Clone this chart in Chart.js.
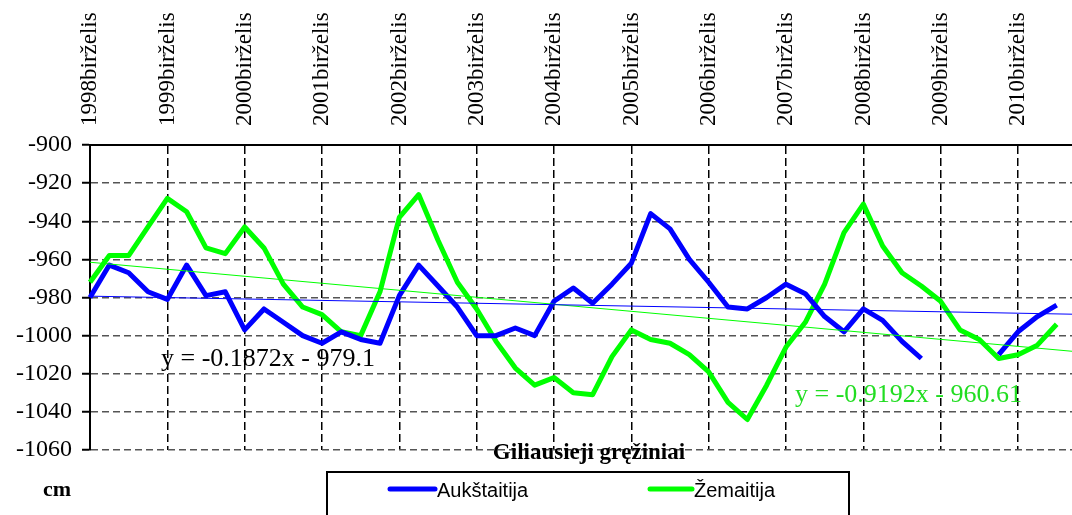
<!DOCTYPE html>
<html lang="lt">
<head>
    <meta charset="UTF-8">
    <title>Giliausieji gręžiniai</title>
    <script src="https://cdn.jsdelivr.net/npm/chart.js"></script>
    <style>
        body { margin: 0; background: #fff; }
        #wrap { width: 1072px; height: 515px; overflow: hidden; }
    </style>
</head>
<body>
<div id="wrap"><canvas id="chart" width="1080" height="515"></canvas></div>
<script>
    // year labels on the top axis (one every 4 points)
    const yearLabels = ['1998birželis', '1999birželis', '2000birželis', '2001birželis', '2002birželis',
        '2003birželis', '2004birželis', '2005birželis', '2006birželis', '2007birželis',
        '2008birželis', '2009birželis', '2010birželis'];

    const aukstaitija = [-980, -963, -967, -977, -981, -963, -979, -977, -997, -986,
        -993, -1000, -1004, -998, -1002, -1004, -979, -963, -974, -985,
        -1000, -1000, -996, -1000, -982, -975, -983, -973, -962, -936,
        -944, -960, -972, -985, -986, -980, -973, -978, -990, -998,
        -986, -992, -1003, -1012, null, null, null, -1010, -998, -990, -984];

    const zemaitija = [-972, -958, -958, -943, -928, -935, -954, -957, -943, -954,
        -973, -985, -989, -998, -1000, -977, -938, -926, -950, -972,
        -986, -1003, -1017, -1026, -1022, -1030, -1031, -1011, -997, -1002,
        -1004, -1010, -1019, -1035, -1044, -1026, -1006, -993, -973, -946,
        -931, -953, -967, -974, -982, -997, -1002, -1012, -1010, -1005, -994];

    // trendline ends (first and last category)
    const trendAukstaitija = [-979.3, -988.8];
    const trendZemaitija = [-961.5, -1008.4];

    const yTicks = [-900, -920, -940, -960, -980, -1000, -1020, -1040, -1060];

    const nCats = 52;
    const categories = [];
    for (let i = 0; i < nCats; i++) categories.push(i % 4 === 0 ? yearLabels[i / 4] : '');

    function trendData(ends) {
        const arr = new Array(nCats).fill(null);
        arr[0] = ends[0];
        arr[nCats - 1] = ends[1];
        return arr;
    }

    const serif = "'Liberation Serif', 'Times New Roman', serif";

    const extras = {
        id: 'extras',
        afterDraw(chart) {
            const ctx = chart.ctx;
            ctx.save();
            // trendline equations
            ctx.textAlign = 'left';
            ctx.textBaseline = 'alphabetic';
            ctx.font = '26px ' + serif;
            ctx.fillStyle = '#000';
            ctx.fillText('y = -0.1872x - 979.1', 161, 366);
            ctx.fillStyle = '#22dd22';
            ctx.fillText('y = -0.9192x - 960.61', 795, 402);

            // title
            ctx.fillStyle = '#000';
            ctx.font = 'bold 23px ' + serif;
            ctx.textAlign = 'center';
            ctx.fillText('Giliausieji gręžiniai', 589, 459);

            // unit
            ctx.font = 'bold 22px ' + serif;
            ctx.fillText('cm', 57, 496);

            // legend
            ctx.lineWidth = 2;
            ctx.strokeStyle = '#000';
            ctx.strokeRect(327, 472, 522, 60);
            const ds = chart.data.datasets;
            const items = [[ds[0], 390, 435], [ds[1], 650, 692]];
            ctx.font = "20px 'Liberation Sans', Arial, sans-serif";
            ctx.textAlign = 'left';
            ctx.textBaseline = 'middle';
            items.forEach(([d, x0, x1]) => {
                ctx.beginPath();
                ctx.lineCap = 'round';
                ctx.lineWidth = 5;
                ctx.strokeStyle = d.borderColor;
                ctx.moveTo(x0, 489);
                ctx.lineTo(x1, 489);
                ctx.stroke();
                ctx.fillStyle = '#000';
                ctx.fillText(d.label, x1 + 2, 491);
            });
            ctx.restore();
        }
    };

    new Chart(document.getElementById('chart'), {
        type: 'line',
        data: {
            labels: categories,
            datasets: [
                {
                    label: 'Aukštaitija',
                    data: aukstaitija,
                    borderColor: '#0000ff',
                    borderWidth: 5,
                    pointRadius: 0,
                    borderJoinStyle: 'round',
                    tension: 0,
                    spanGaps: false
                },
                {
                    label: 'Žemaitija',
                    data: zemaitija,
                    borderColor: '#00ff00',
                    borderWidth: 5,
                    pointRadius: 0,
                    borderJoinStyle: 'round',
                    tension: 0,
                    spanGaps: false
                },
                {
                    label: 'trend Aukštaitija',
                    data: trendData(trendAukstaitija),
                    borderColor: '#0000ff',
                    borderWidth: 1,
                    pointRadius: 0,
                    spanGaps: true,
                    order: -1
                },
                {
                    label: 'trend Žemaitija',
                    data: trendData(trendZemaitija),
                    borderColor: '#00ff00',
                    borderWidth: 1,
                    pointRadius: 0,
                    spanGaps: true,
                    order: -1
                }
            ]
        },
        options: {
            responsive: false,
            animation: false,
            layout: { padding: { top: 0, right: 4, bottom: 65, left: 0 } },
            plugins: {
                legend: { display: false },
                tooltip: { enabled: false }
            },
            scales: {
                x: {
                    position: 'top',
                    afterFit: (scale) => { scale.height = 145; },
                    border: { display: true, color: '#000', width: 2, dash: [8, 4] },
                    grid: {
                        color: (c) => c.index === 0 ? 'rgba(0,0,0,0)' : '#000',
                        lineWidth: 1.5,
                        drawTicks: false
                    },
                    ticks: {
                        autoSkip: false,
                        minRotation: 90,
                        maxRotation: 90,
                        padding: 19,
                        labelOffset: 28,
                        color: '#000',
                        font: { family: serif, size: 23 },
                        callback: (v, i) => i % 4 === 0 ? categories[i] : null
                    }
                },
                y: {
                    min: -1060,
                    max: -900,
                    afterFit: (scale) => { scale.width = 90; },
                    afterBuildTicks: (scale) => { scale.ticks = yTicks.map(v => ({ value: v })); },
                    border: { display: true, color: '#000', width: 2, dash: [7, 4] },
                    grid: {
                        color: (c) => c.tick && c.tick.value === -900 ? 'rgba(0,0,0,0)' : '#555',
                        lineWidth: 1.5,
                        tickLength: 8,
                        tickColor: '#000',
                        tickWidth: 2
                    },
                    ticks: {
                        padding: 10,
                        color: '#000',
                        font: { family: serif, size: 24 },
                        callback: (v) => String(v)
                    }
                }
            }
        },
        plugins: [extras]
    });
</script>
</body>
</html>
